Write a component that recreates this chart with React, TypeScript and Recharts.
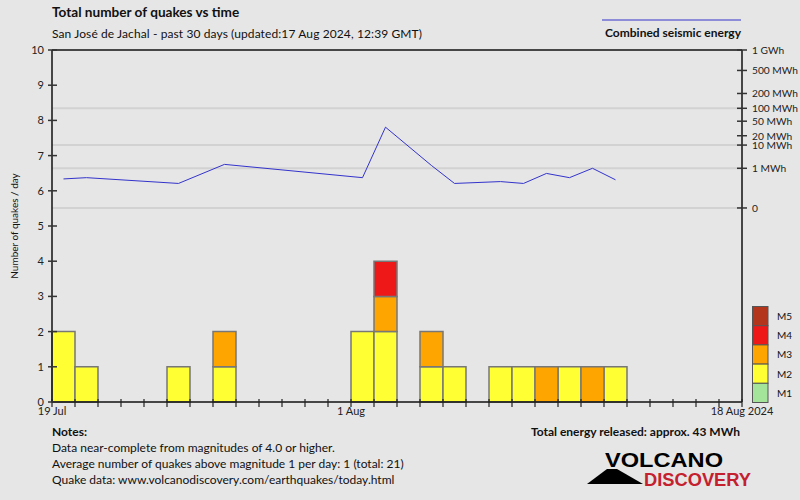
import React from 'react';
import { ComposedChart, Bar, Line, XAxis, YAxis, ReferenceLine } from 'recharts';

// one entry per day, 19 Jul .. 17 Aug 2024
const days = [
  '19 Jul', '20 Jul', '21 Jul', '22 Jul', '23 Jul', '24 Jul', '25 Jul', '26 Jul', '27 Jul', '28 Jul',
  '29 Jul', '30 Jul', '31 Jul', '1 Aug', '2 Aug', '3 Aug', '4 Aug', '5 Aug', '6 Aug', '7 Aug',
  '8 Aug', '9 Aug', '10 Aug', '11 Aug', '12 Aug', '13 Aug', '14 Aug', '15 Aug', '16 Aug', '17 Aug',
];

const m1 = [0, 0, 0, 0, 0, 0, 0, 0, 0, 0, 0, 0, 0, 0, 0, 0, 0, 0, 0, 0, 0, 0, 0, 0, 0, 0, 0, 0, 0, 0];
const m2 = [2, 1, 0, 0, 0, 1, 0, 1, 0, 0, 0, 0, 0, 2, 2, 0, 1, 1, 0, 1, 1, 0, 1, 0, 1, 0, 0, 0, 0, 0];
const m3 = [0, 0, 0, 0, 0, 0, 0, 1, 0, 0, 0, 0, 0, 0, 1, 0, 1, 0, 0, 0, 0, 1, 0, 1, 0, 0, 0, 0, 0, 0];
const m4 = [0, 0, 0, 0, 0, 0, 0, 0, 0, 0, 0, 0, 0, 0, 1, 0, 0, 0, 0, 0, 0, 0, 0, 0, 0, 0, 0, 0, 0, 0];
const m5 = [0, 0, 0, 0, 0, 0, 0, 0, 0, 0, 0, 0, 0, 0, 0, 0, 0, 0, 0, 0, 0, 0, 0, 0, 0, 0, 0, 0, 0, 0];

// daily seismic energy in MWh (null = no quakes that day)
const energyMWh: (number | null)[] = [
  0.21, 0.26, null, null, null, 0.09, null, 1.6, null, null,
  null, null, null, 0.26, 35, null, 1.4, 0.09, null, 0.13,
  0.09, 0.5, 0.26, 1.0, 0.18, null, null, null, null, null,
];

const countTicks = [0, 1, 2, 3, 4, 5, 6, 7, 8, 9, 10];
const energyTicks = [0, 1, 10, 20, 50, 100, 200, 500, 1000];
const energyTickLabels = ['0', '1 MWh', '10 MWh', '20 MWh', '50 MWh', '100 MWh', '200 MWh', '500 MWh', '1 GWh'];
const energyGrid = [0, 1, 10, 100];

// labels sit on the left edge of a day, the last one on the right edge of the final day
const dayEdgeLabels: Record<string, string> = { '19 Jul': '19 Jul', '1 Aug': '1 Aug' };
const endLabel = '18 Aug 2024';

const magnitudes = ['M5', 'M4', 'M3', 'M2', 'M1'];
const magColors: Record<string, string> = {
  M1: '#a3e39a', M2: '#ffff33', M3: '#ffa500', M4: '#ee1818', M5: '#b3361c',
};

const notes = [
  'Data near-complete from magnitudes of 4.0 or higher.',
  'Average number of quakes above magnitude 1 per day: 1 (total: 21)',
  'Quake data: www.volcanodiscovery.com/earthquakes/today.html',
];

// energy axis is roughly a fifth-root scale
const toAxis = (mwh: number) => Math.pow(mwh, 0.2);
const energyDomain = [-4.89, toAxis(1000)];

const data = days.map((d, i) => ({
  day: d,
  M1: m1[i], M2: m2[i], M3: m3[i], M4: m4[i], M5: m5[i],
  energy: energyMWh[i] == null ? null : toAxis(energyMWh[i] as number),
}));

const FONT = 'Lato, "DejaVu Sans", sans-serif';
const HALF_DAY = 690 / days.length / 2;

const LeftTick = (props: any) => {
  const { x, y, payload } = props;
  return (
    <g>
      <line x1={x - 4} x2={x + 5} y1={y} y2={y} stroke="#333" strokeWidth={1.5} />
      <text x={x - 8} y={y + 4} textAnchor="end" fontSize={11} fill="#222" fontFamily={FONT}>{payload.value}</text>
    </g>
  );
};

const RightTick = (props: any) => {
  const { x, y, payload } = props;
  const idx = energyTicks.findIndex((e) => Math.abs(toAxis(e) - payload.value) < 1e-6);
  return (
    <g>
      <line x1={x - 5} x2={x + 5} y1={y} y2={y} stroke="#333" strokeWidth={1.5} />
      <text x={x + 10} y={y + 4} fontSize={10.2} fill="#222" fontFamily={FONT}>{energyTickLabels[idx]}</text>
    </g>
  );
};

const BottomTick = (props: any) => {
  const { x, y, payload, index } = props;
  const left = x - HALF_DAY;
  const right = x + HALF_DAY;
  const label = dayEdgeLabels[payload.value];
  const isLast = index === days.length - 1;
  return (
    <g>
      <line x1={left} x2={left} y1={y - 3} y2={y + 5} stroke="#222" strokeWidth={1.2} />
      {label && (
        <text x={left} y={y + 13} textAnchor="middle" fontSize={11} fill="#222" fontFamily={FONT}>{label}</text>
      )}
      {isLast && (
        <g>
          <line x1={right} x2={right} y1={y - 3} y2={y + 5} stroke="#222" strokeWidth={1.2} />
          <text x={right} y={y + 13} textAnchor="middle" fontSize={11} fill="#222" fontFamily={FONT}>{endLabel}</text>
        </g>
      )}
    </g>
  );
};

export default function App() {
  return (
    <div style={{ position: 'fixed', left: 0, top: 0, width: 800, height: 500, background: '#e6e6e6' }}>
      <ComposedChart
        width={800}
        height={500}
        data={data}
        margin={{ top: 50, right: 0, bottom: 0, left: 0 }}
        barCategoryGap={0}
        barGap={0}
      >
        {energyGrid.map((e) => (
          <ReferenceLine key={e} yAxisId="energy" y={toAxis(e)} stroke="#d2d2d2" strokeWidth={2} />
        ))}
        <XAxis
          dataKey="day"
          type="category"
          interval={0}
          height={98}
          tickSize={0}
          tickMargin={0}
          tick={<BottomTick />}
          axisLine={{ stroke: '#111', strokeWidth: 1.5 }}
        />
        <YAxis
          yAxisId="count"
          domain={[0, 10]}
          ticks={countTicks}
          interval={0}
          width={52}
          tickSize={0}
          tickMargin={0}
          tick={<LeftTick />}
          axisLine={{ stroke: '#111', strokeWidth: 1.5 }}
        />
        <YAxis
          yAxisId="energy"
          orientation="right"
          domain={energyDomain}
          ticks={energyTicks.map(toAxis)}
          interval={0}
          width={58}
          tickSize={0}
          tickMargin={0}
          tick={<RightTick />}
          axisLine={{ stroke: '#111', strokeWidth: 1.5 }}
          allowDataOverflow
        />
        <ReferenceLine yAxisId="count" y={10} stroke="#111" strokeWidth={1.5} />
        {['M1', 'M2', 'M3', 'M4', 'M5'].map((m) => (
          <Bar
            key={m}
            yAxisId="count"
            dataKey={m}
            stackId="q"
            fill={magColors[m]}
            stroke="#777"
            strokeWidth={1.5}
            isAnimationActive={false}
          />
        ))}
        <Line
          yAxisId="energy"
          dataKey="energy"
          stroke="#3333cc"
          strokeWidth={1}
          dot={false}
          connectNulls
          isAnimationActive={false}
        />
      </ComposedChart>

      <svg width={800} height={500} style={{ position: 'absolute', left: 0, top: 0, pointerEvents: 'none' }}>
        <g fontFamily={FONT} fill="#111">
          <text x={52} y={17} fontSize={13.6} fontWeight="bold">Total number of quakes vs time</text>
          <text x={52} y={38} fontSize={12} textLength={370}>San José de Jachal - past 30 days (updated:17 Aug 2024, 12:39 GMT)</text>
          <line x1={602} x2={741} y1={20} y2={20} stroke="#3333cc" strokeWidth={1} />
          <text x={741} y={37} fontSize={12} fontWeight="bold" textAnchor="end">Combined seismic energy</text>
          <text transform="translate(18,226) rotate(-90)" fontSize={10} textAnchor="middle">Number of quakes / day</text>

          {magnitudes.map((m, i) => (
            <g key={m}>
              <rect x={752.5} y={306.5 + i * 19.2} width={15.5} height={19.2} fill={magColors[m]} stroke="#555" strokeWidth={1} />
              <text x={777} y={320 + i * 19.2} fontSize={10}>{m}</text>
            </g>
          ))}

          <text x={52} y={436} fontSize={12} fontWeight="bold">Notes:</text>
          {notes.map((n, i) => (
            <text key={i} x={52} y={452 + i * 16} fontSize={12}>{n}</text>
          ))}
          <text x={740} y={436} fontSize={12} fontWeight="bold" textAnchor="end">Total energy released: approx. 43 MWh</text>

          <polygon points="587,484 643,484 617,469 607,469" fill="#000" />
          <text x={605} y={467} fontSize={21} fontWeight="bold" fontFamily='"Liberation Sans", Arial, sans-serif' textLength={118} lengthAdjust="spacingAndGlyphs" fill="#000">VOLCANO</text>
          <text x={644} y={486} fontSize={18} fontWeight="bold" fontFamily='"Liberation Sans", Arial, sans-serif' textLength={107} lengthAdjust="spacingAndGlyphs" fill="#c4202e">DISCOVERY</text>
        </g>
      </svg>
    </div>
  );
}
